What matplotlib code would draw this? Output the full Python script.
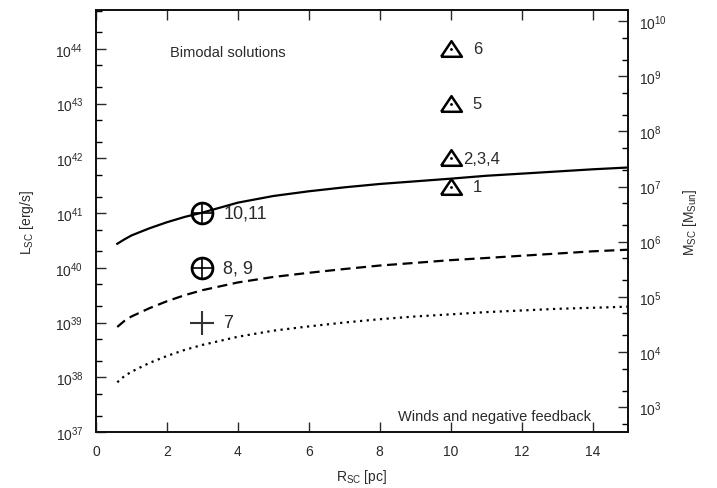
import matplotlib
matplotlib.use("Agg")
from matplotlib import pyplot as plt
from matplotlib.ticker import FixedLocator, NullFormatter

# critical luminosity curves
R_CURVE = [0.6, 0.8, 1, 1.5, 2, 2.5, 3, 4, 5, 6, 7, 8, 9, 10, 11, 12, 13, 14, 15]
L_SOLID = [2.75e40, 3.3e40, 3.9e40, 5.25e40, 6.8e40, 8.5e40, 1.02e41, 1.55e41, 2.05e41, 2.5e41,
           2.95e41, 3.4e41, 3.8e41, 4.25e41, 4.8e41, 5.25e41, 5.75e41, 6.3e41, 6.8e41]
L_DASHED = [8.3e38, 1.07e39, 1.29e39, 1.82e39, 2.45e39, 3.16e39, 3.9e39, 5.4e39, 6.8e39, 8.1e39,
            9.5e39, 1.1e40, 1.23e40, 1.38e40, 1.51e40, 1.66e40, 1.82e40, 2.0e40, 2.14e40]
L_DOTTED = [8.1e37, 1.05e38, 1.26e38, 1.82e38, 2.45e38, 3.16e38, 3.9e38, 5.5e38, 7.1e38, 8.5e38,
            1.0e39, 1.15e39, 1.29e39, 1.41e39, 1.55e39, 1.66e39, 1.78e39, 1.86e39, 1.95e39]

# individual clusters
R_CIRCLES = [3, 3]
L_CIRCLES = [1e41, 1e40]
CIRCLE_LABELS = ["10,11", "8, 9"]

R_PLUS = [3]
L_PLUS = [1e39]
PLUS_LABELS = ["7"]

R_TRI = [10, 10, 10, 10]
L_TRI = [1e44, 1e43, 1e42, 3e41]
TRI_LABELS = ["6", "5", "2,3,4", "1"]
TRI_DX = [16, 16, 9, 16]

X_TICKS = [0, 2, 4, 6, 8, 10, 12, 14]
L_DECADES = list(range(37, 45))
M_DECADES = list(range(3, 11))

plt.rcParams['font.family'] = ['Liberation Sans', 'DejaVu Sans']
plt.rcParams['mathtext.fontset'] = 'custom'
plt.rcParams['mathtext.rm'] = 'Liberation Sans'
plt.rcParams['mathtext.it'] = 'Liberation Sans'
plt.rcParams['mathtext.bf'] = 'Liberation Sans'

TEXT = '#2a2a2a'
L_LIM = (1e37, 10 ** 44.71)
M_LIM = (10 ** 2.55, 10 ** 10.2)


def log_ticks(ax, decades, lim):
    majors = [10.0 ** d for d in decades]
    minors = [m * 10.0 ** d for d in range(decades[0] - 1, decades[-1] + 1) for m in (2, 5)]
    minors = [v for v in minors if lim[0] <= v <= lim[1]]
    ax.yaxis.set_major_locator(FixedLocator(majors))
    ax.yaxis.set_minor_locator(FixedLocator(minors))
    ax.yaxis.set_minor_formatter(NullFormatter())
    ax.set_yticklabels([r'10$^{%d}$' % d for d in decades])


fig = plt.figure(figsize=(7.17, 4.89), dpi=100)
ax = fig.add_axes([96 / 717, 1 - 433 / 489, 532 / 717, 422 / 489])

ax.plot(R_CURVE, L_SOLID, color='black', lw=1.6)
ax.plot(R_CURVE, L_DASHED, color='black', lw=1.6, dashes=(4.5, 2.5))
ax.plot(R_CURVE, L_DOTTED, color='black', lw=1.6, dashes=(1, 2))

ax.plot(R_CIRCLES, L_CIRCLES, 'o', ms=15, mfc='none', mec='black', mew=2)
ax.plot(R_CIRCLES, L_CIRCLES, '+', ms=14, mec='black', mew=1.2)
ax.plot(R_PLUS, L_PLUS, '+', ms=17, mec='#333333', mew=1.5)

tri = [(-1, -0.7), (1, -0.7), (0, 0.8), (-1, -0.7)]
ax.plot(R_TRI, L_TRI, ls='none', marker=tri, ms=15, mfc='none', mec='black', mew=1.8)
ax.plot(R_TRI, L_TRI, '.', ms=2, color='black')

for r, l, s in zip(R_CIRCLES, L_CIRCLES, CIRCLE_LABELS):
    ax.annotate(s, (r, l), xytext=(15, 0), textcoords='offset points',
                va='center', ha='left', fontsize=13, color=TEXT)
for r, l, s in zip(R_PLUS, L_PLUS, PLUS_LABELS):
    ax.annotate(s, (r, l), xytext=(15, 0), textcoords='offset points',
                va='center', ha='left', fontsize=13, color=TEXT)
for r, l, s, dx in zip(R_TRI, L_TRI, TRI_LABELS, TRI_DX):
    ax.annotate(s, (r, l), xytext=(dx, 0), textcoords='offset points',
                va='center', ha='left', fontsize=12, color=TEXT)

ax.text(0.139, 0.9, 'Bimodal solutions', transform=ax.transAxes,
        fontsize=10.5, color=TEXT, va='center')
ax.text(0.93, 0.038, 'Winds and negative feedback', transform=ax.transAxes,
        fontsize=10.5, color=TEXT, va='center', ha='right')

ax.set_xlim(0, 15)
ax.set_yscale('log')
ax.set_ylim(*L_LIM)
ax.set_xticks(X_TICKS)
log_ticks(ax, L_DECADES, L_LIM)
ax.tick_params(axis='x', which='both', direction='in', top=True, length=7,
               width=1, labelsize=10, pad=9, colors=TEXT)
ax.tick_params(axis='y', which='major', direction='in', length=7, width=1,
               labelsize=10, pad=9, colors=TEXT)
ax.tick_params(axis='y', which='minor', direction='in', length=4, width=1)

ax.set_xlabel(r'R$_{\mathrm{SC}}$ [pc]', fontsize=10, color=TEXT, labelpad=6)
ax.set_ylabel(r'L$_{\mathrm{SC}}$ [erg/s]', fontsize=10, color=TEXT, labelpad=14)

ax2 = ax.twinx()
ax2.set_yscale('log')
ax2.set_ylim(*M_LIM)
log_ticks(ax2, M_DECADES, M_LIM)
ax2.tick_params(axis='y', which='major', direction='in', length=7, width=1,
                labelsize=10, pad=8, colors=TEXT)
ax2.tick_params(axis='y', which='minor', direction='in', length=4, width=1)
ax2.set_ylabel(r'M$_{\mathrm{SC}}$ [M$_{\mathrm{Sun}}$]', fontsize=10, color=TEXT, labelpad=10)

for a in (ax, ax2):
    for sp in a.spines.values():
        sp.set_linewidth(1.3)
        sp.set_color('#111111')

fig.savefig('out.png', dpi=100)
